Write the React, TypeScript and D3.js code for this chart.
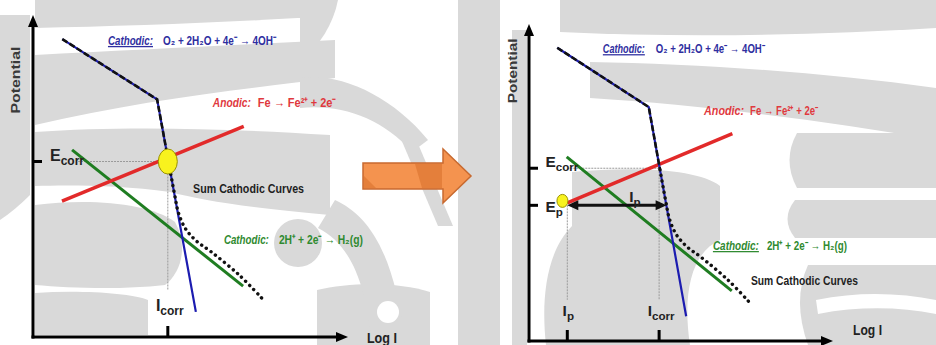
import React from "react";
import * as d3 from "d3";

type Pt = [number, number];

// ---- Data (log I units on x, potential units on y; both 0..10) ----
const o2Cathodic: Pt[] = [[0.93, 9.25], [3.94, 7.38], [5.17, 0.78]];
const feAnodic: Pt[] = [[0.92, 4.22], [6.69, 6.54]];
const h2Cathodic: Pt[] = [[1.24, 5.81], [6.67, 1.58]];
const sumCathodicO2: Pt[] = [[0.93, 9.25], [3.94, 7.38], [4.31, 5.4]];
const sumCathodicMixed: Pt[] = [
  [4.31, 5.4], [4.5, 4.4], [4.62, 3.85], [4.85, 3.35], [5.2, 2.97],
  [5.65, 2.65], [6.55, 1.92], [7.27, 1.2],
];
const E_CORR = 5.45;
const I_CORR = 4.28;
const E_P = 4.28;
const I_P = 1.26;
const passiveDot: Pt = [1.1, 4.42];

const axisTitles = ["Potential", "Log I"];
const cathodicWord = "Cathodic:";
const anodicWord = "Anodic:";
const o2Text = "O₂ + 2H₂O + 4e⁻ → 4OH⁻";
const feText = "Fe → Fe²⁺ + 2e⁻";
const h2Text = "2H⁺ + 2e⁻ → H₂(g)";
const sumText = "Sum Cathodic Curves";

const FONT = "'Liberation Sans Narrow', 'Liberation Sans', Arial, sans-serif";
const BLUE = "#1c1cb0";
const BLUE_T = "#2e2ea0";
const RED = "#e22a2a";
const RED_T = "#e0393e";
const GREEN = "#1f7d21";
const GREEN_T = "#2f8a30";
const WM = "#d9d9d9";

function Word({ x, y, text, len, fs, color, italic, underline }: { x: number; y: number; text: string; len: number; fs: number; color: string; italic?: boolean; underline?: boolean }) {
  return (
    <text
      x={x}
      y={y}
      fontFamily={FONT}
      fontWeight="bold"
      fontStyle={italic ? "italic" : "normal"}
      textDecoration={underline ? "underline" : "none"}
      fill={color}
      fontSize={fs}
      textLength={len}
      lengthAdjust="spacingAndGlyphs"
    >
      {text}
    </text>
  );
}

function Panel({ ox, oy, xLen, yLen, after }: { ox: number; oy: number; xLen: number; yLen: number; after: boolean }) {
  const x = d3.scaleLinear().domain([0, 10]).range([ox, ox + xLen]);
  const y = d3.scaleLinear().domain([0, 10]).range([oy, oy - yLen]);
  const k = xLen / 315;
  const fs = 13 * k;
  const line = d3.line<Pt>().x((d) => x(d[0])).y((d) => y(d[1]));
  const curve = d3.line<Pt>().x((d) => x(d[0])).y((d) => y(d[1])).curve(d3.curveCatmullRom.alpha(0.5));

  const redAt = d3.scaleLinear().domain([feAnodic[0][0], feAnodic[1][0]]).range([feAnodic[0][1], feAnodic[1][1]]);
  const redPts: Pt[] = after ? [[I_P, redAt(I_P)], feAnodic[1]] : feAnodic;

  // where the summed cathodic curve reaches E_P
  let ipEnd = sumCathodicMixed[0][0];
  for (let i = 0; i < sumCathodicMixed.length - 1; i++) {
    const a = sumCathodicMixed[i], b = sumCathodicMixed[i + 1];
    if (a[1] >= E_P && b[1] <= E_P) {
      ipEnd = a[0] + ((b[0] - a[0]) * (a[1] - E_P)) / (a[1] - b[1]);
    }
  }

  // label layout (x, baseline, word width, formula offset, formula width)
  const lay = after
    ? {
        o2: [2.43, 9.08, 42, 53, 109], fe: [5.76, 7.13, 40, 46, 68], h2: [6.05, 2.87, 46, 54, 80],
        sum: [7.3, 1.77], logI: [10.66, 0.19], pot: [-0.53, 8.52], gEnd: 1.3,
      }
    : {
        o2: [2.38, 9.07, 45, 55, 113], fe: [5.71, 7.14, 38, 45, 78], h2: [6.06, 2.89, 45, 55, 84],
        sum: [5.08, 4.47], logI: [10.6, -0.18], pot: [-0.54, 7.98], gEnd: 1.46,
      };

  const top = y(10);
  const right = x(10);
  const guide = { stroke: "#9a9a9a", strokeWidth: 1, strokeDasharray: "2 1" };
  const subLabel = (main: string, sub: string, xx: number, yy: number, anchor: string) => (
    <text x={xx} y={yy} textAnchor={anchor} fontFamily={FONT} fontWeight="bold" fill="#222" fontSize={16 * k}>
      {main}
      <tspan fontSize={12 * k} dy={4}>{sub}</tspan>
    </text>
  );

  return (
    <g>
      {/* guide lines */}
      <line x1={after ? x(I_P) : x(1.43)} x2={x(I_CORR)} y1={y(E_CORR)} y2={y(E_CORR)} {...guide} />
      <line x1={x(I_CORR)} x2={x(I_CORR)} y1={y(E_CORR)} y2={y(lay.gEnd)} {...guide} />
      {after && <line x1={x(I_P)} x2={x(I_P)} y1={y(E_P)} y2={y(lay.gEnd)} {...guide} />}

      {/* curves */}
      <path d={line(h2Cathodic)!} fill="none" stroke={GREEN} strokeWidth={3} />
      <path d={line(redPts)!} fill="none" stroke={RED} strokeWidth={3.5} />
      <path d={line(o2Cathodic)!} fill="none" stroke={BLUE} strokeWidth={2.2} />
      <path d={line(sumCathodicO2)!} fill="none" stroke="#111" strokeWidth={2.6} strokeDasharray="6 2.5" />
      <path d={curve(sumCathodicMixed)!} fill="none" stroke="#111" strokeWidth={3.4} strokeDasharray="0.1 5.6" strokeLinecap="round" />

      {!after && (
        <ellipse cx={x(I_CORR)} cy={y(E_CORR)} rx={9.5} ry={12.5} fill="#f8f21e" stroke="#9a9200" strokeWidth={1} />
      )}
      {after && (
        <g>
          <ellipse cx={x(passiveDot[0])} cy={y(passiveDot[1])} rx={5.5} ry={6.5} fill="#f8f21e" stroke="#9a9200" strokeWidth={1} />
          <line x1={x(I_P) + 8} x2={x(ipEnd) - 8} y1={y(E_P)} y2={y(E_P)} stroke="#111" strokeWidth={3} />
          <polygon points={`${x(I_P)},${y(E_P)} ${x(I_P) + 11},${y(E_P) - 5} ${x(I_P) + 11},${y(E_P) + 5}`} fill="#111" />
          <polygon points={`${x(ipEnd)},${y(E_P)} ${x(ipEnd) - 11},${y(E_P) - 5} ${x(ipEnd) - 11},${y(E_P) + 5}`} fill="#111" />
          {subLabel("I", "p", x(3.3), y(E_P) - 3, "start")}
        </g>
      )}

      {/* axes */}
      <line x1={ox} x2={ox} y1={oy + 1.5} y2={top + 10} stroke="#000" strokeWidth={3} />
      <polygon points={`${ox},${top} ${ox - 5},${top + 12} ${ox + 5},${top + 12}`} fill="#000" />
      <line x1={ox - 1.5} x2={right - 10} y1={oy} y2={oy} stroke="#000" strokeWidth={3} />
      <polygon points={`${right},${oy} ${right - 12},${oy - 5} ${right - 12},${oy + 5}`} fill="#000" />

      {/* ticks */}
      <line x1={ox} x2={ox + 9} y1={y(E_CORR)} y2={y(E_CORR)} stroke="#000" strokeWidth={3} />
      <line x1={x(I_CORR)} x2={x(I_CORR)} y1={oy - 11} y2={oy} stroke="#000" strokeWidth={3} />
      {after && <line x1={ox} x2={ox + 9} y1={y(E_P)} y2={y(E_P)} stroke="#000" strokeWidth={3} />}
      {after && <line x1={x(I_P)} x2={x(I_P)} y1={oy - 11} y2={oy} stroke="#000" strokeWidth={3} />}

      {/* tick labels */}
      {subLabel("E", "corr", ox + 17 * k, y(E_CORR) - 1, "start")}
      {subLabel("I", "corr", x(I_CORR) + 2, y(0.8), "middle")}
      {after && subLabel("E", "p", ox + 17 * k, y(E_P) + 7, "start")}
      {after && subLabel("I", "p", x(I_P) + 1, y(0.8), "middle")}

      {/* axis titles */}
      <text
        transform={`translate(${x(lay.pot[0])},${y(lay.pot[1])}) rotate(-90)`}
        textAnchor="middle"
        dominantBaseline="central"
        fontFamily={FONT}
        fontWeight="bold"
        fill="#3a3a3a"
        fontSize={13 * k}
        textLength={67 * k}
        lengthAdjust="spacingAndGlyphs"
      >
        {axisTitles[0]}
      </text>
      <text x={x(lay.logI[0])} y={y(lay.logI[1])} fontFamily={FONT} fontWeight="bold" fill="#222" fontSize={14.5 * k} textLength={30 * k} lengthAdjust="spacingAndGlyphs">
        {axisTitles[1]}
      </text>

      {/* reaction labels */}
      <Word x={x(lay.o2[0])} y={y(lay.o2[1])} text={cathodicWord} len={lay.o2[2]} fs={fs} color={BLUE_T} italic underline />
      <Word x={x(lay.o2[0]) + lay.o2[3]} y={y(lay.o2[1])} text={o2Text} len={lay.o2[4]} fs={fs} color={BLUE_T} />

      <Word x={x(lay.fe[0])} y={y(lay.fe[1])} text={anodicWord} len={lay.fe[2]} fs={fs} color={RED_T} italic />
      <Word x={x(lay.fe[0]) + lay.fe[3]} y={y(lay.fe[1])} text={feText} len={lay.fe[4]} fs={fs} color={RED_T} />

      <Word x={x(lay.h2[0])} y={y(lay.h2[1])} text={cathodicWord} len={lay.h2[2]} fs={fs} color={GREEN_T} italic underline={after} />
      <Word x={x(lay.h2[0]) + lay.h2[3]} y={y(lay.h2[1])} text={h2Text} len={lay.h2[4]} fs={fs} color={GREEN_T} />

      <Word x={x(lay.sum[0])} y={y(lay.sum[1])} text={sumText} len={111 * k} fs={fs} color="#1e1e1e" />
    </g>
  );
}

function Watermark() {
  const fills = [
    // left panel
    "M0,15 H30 V195 Q15,210 0,220 Z",
    "M35,0 H330 V16 C240,22 130,26 35,28 Z",
    "M35,55 C130,50 240,45 335,40 L335,78 C250,88 140,100 35,125 Z",
    "M35,132 C120,126 220,128 330,135 L330,215 C250,208 200,200 170,192 C120,185 70,185 35,186 Z",
    "M35,205 C90,198 150,203 175,222 C188,245 182,272 165,285 C120,290 70,288 35,285 Z",
    "M35,293 C80,290 130,293 148,300 L148,335 L35,335 Z",
    "M317,290 C350,282 400,282 430,292 V345 H317 Z",
    // center
    "M300,0 H338 C333,25 320,45 300,62 Z",
    "M300,78 C340,72 392,96 428,140 L412,152 C382,118 342,104 300,108 Z",
    "M458,0 H500 V345 H458 Z",
    "M335,200 C368,215 395,252 405,345 H372 C366,282 350,244 318,228 Z",
    "M398,132 L413,132 L453,226 L438,226 Z",
    // right panel
    "M512,30 H527 V345 H512 Z",
    "M560,0 H936 V28 C820,35 690,38 560,32 Z",
    "M590,62 C700,64 820,72 936,88 V140 C820,120 700,105 590,98 Z",
    "M797,133 H936 V188 H797 Q782,160 797,133 Z",
    "M795,200 H936 V238 H795 Q780,219 795,200 Z",
    "M808,265 H936 V345 H808 Q792,300 808,265 Z",
    "M572,172 C640,166 700,170 720,186 L720,240 C692,252 682,292 690,345 H546 C541,300 546,252 572,226 Z",
  ];
  return (
    <g>
      {fills.map((d, i) => (
        <path key={i} d={d} fill={WM} />
      ))}
      <circle cx={298} cy={243} r={24} fill={WM} />
      <circle cx={388} cy={312} r={11} fill="#fff" />
      <path d="M816,300 C860,291 900,293 936,300 V314 C900,307 860,306 818,314 Z" fill="#fff" />
    </g>
  );
}

function OrangeArrow() {
  return (
    <g>
      <path d="M363,163 H443 V149 L471,176 L443,203 V189 H363 Z" fill="#f4934f" stroke="#c86a30" strokeWidth={1.5} />
      <path d="M415,164 H442 V188 H422 Z" fill="#e07a36" opacity={0.8} />
      <path d="M364,176 L376,188 H364 Z" fill="#e07a36" opacity={0.8} />
    </g>
  );
}

export default function App() {
  return (
    <svg
      width={936}
      height={345}
      viewBox="0 0 936 345"
      style={{ position: "absolute", left: 0, top: 0, background: "#fff" }}
    >
      <rect width={936} height={345} fill="#fff" />
      <Watermark />
      <OrangeArrow />
      <Panel ox={33} oy={337} xLen={315} yLen={322} after={false} />
      <Panel ox={529} oy={341} xLen={304} yLen={317} after={true} />
    </svg>
  );
}
